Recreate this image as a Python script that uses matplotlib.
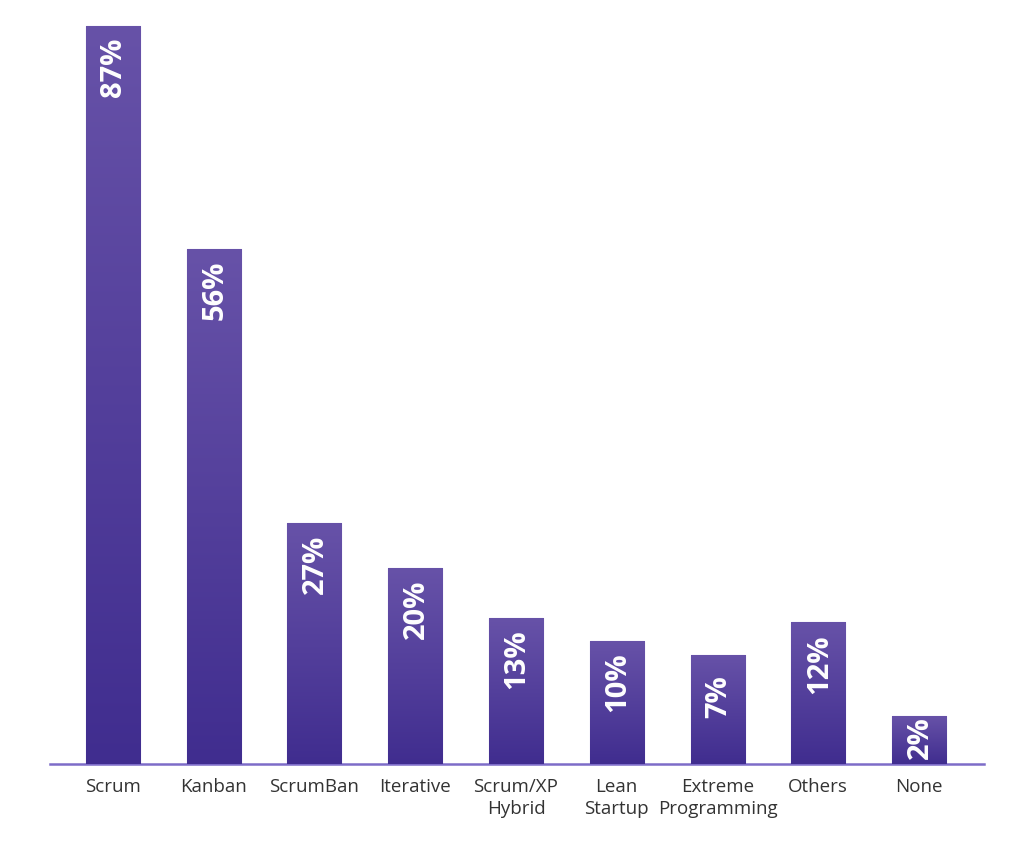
import numpy as np
import matplotlib
matplotlib.use("Agg")
import matplotlib.pyplot as plt
from matplotlib.colors import LinearSegmentedColormap

categories = ["Scrum", "Kanban", "ScrumBan", "Iterative", "Scrum/XP\nHybrid",
              "Lean\nStartup", "Extreme\nProgramming", "Others", "None"]
labels = ["87%", "56%", "27%", "20%", "13%", "10%", "7%", "12%", "2%"]
# bar heights as drawn in the picture (not strictly proportional to the labels)
bar_heights = [87, 60.7, 28.4, 23.1, 17.2, 14.5, 12.9, 16.7, 5.6]

fig = plt.figure(figsize=(10.24, 8.46), dpi=100)
ax = fig.add_axes([50 / 1024, 82 / 846, 934 / 1024, 763.4 / 846])

x = np.arange(len(categories))
bars = ax.bar(x, bar_heights, width=0.536, color="#4f3b9b",
              edgecolor="#8a7ad0", linewidth=0.8, zorder=2)

cmap = LinearSegmentedColormap.from_list("grad", ["#402d8f", "#6752a8"])
grad = np.linspace(0, 1, 256).reshape(-1, 1)
for b in bars:
    x0, w, h = b.get_x(), b.get_width(), b.get_height()
    im = ax.imshow(grad, cmap=cmap, aspect="auto", origin="lower",
                   extent=[x0, x0 + w, 0, h], zorder=2)
    im.set_clip_path(b)

pad = 1.3
half_len = 3.6
for xi, h, lab in zip(x, bar_heights, labels):
    yc = max(h - pad - half_len, h / 2 + 0.3)
    ax.text(xi + 0.01, yc, lab, rotation=90, ha="center", va="center",
            color="white", fontsize=21, fontweight="bold",
            family="Open Sans", zorder=3)

ax.set_xlim(-0.625, 8.645)
ax.set_ylim(0, 90)
ax.set_xticks(x)
ax.set_xticklabels(categories, fontsize=13.5, family="Open Sans", color="#333333",
                   linespacing=1.3)
ax.tick_params(axis="x", length=0, pad=10)
ax.set_yticks([])
for s in ["top", "right", "left"]:
    ax.spines[s].set_visible(False)
ax.spines["bottom"].set_color("#7d6cc8")
ax.spines["bottom"].set_linewidth(1.8)
ax.spines["bottom"].set_zorder(1)

fig.savefig("out.png", dpi=100)
